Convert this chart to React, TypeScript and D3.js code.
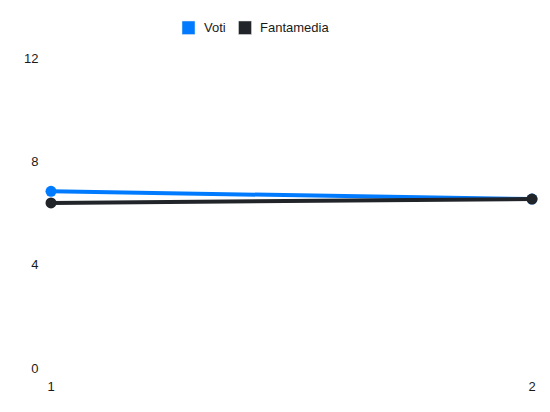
import React from "react";
import * as d3 from "d3";

const categories = ["1", "2"];
const votiValues = [6.85, 6.55];
const fantamediaValues = [6.4, 6.55];
const yTicks = [0, 4, 8, 12];

const series = [
  { name: "Voti", values: votiValues, color: "#007bff" },
  { name: "Fantamedia", values: fantamediaValues, color: "#212529" },
];

export default function App() {
  const width = 550;
  const height = 412;
  const x = d3.scalePoint<string>().domain(categories).range([51, 532]);
  const y = d3.scaleLinear().domain([0, 12]).range([368.3, 58.3]);
  const line = d3
    .line<number>()
    .x((_, i) => x(categories[i]) as number)
    .y((d) => y(d));
  const font = "'Liberation Sans', Arial, Helvetica, sans-serif";
  const legend = [
    { name: "Voti", color: "#007bff", boxX: 182, textX: 204 },
    { name: "Fantamedia", color: "#212529", boxX: 238.5, textX: 260 },
  ];
  return (
    <svg
      width={width}
      height={height}
      style={{ position: "absolute", left: 0, top: 0, background: "#fff" }}
      fontFamily={font}
    >
      {legend.map((l) => (
        <g key={l.name}>
          <rect x={l.boxX} y={21} width={13} height={13.5} fill={l.color} stroke="#e6e6e6" strokeWidth={0.5} />
          <text x={l.textX} y={27.5} dominantBaseline="central" fontSize={13} fill="#1a1a1a">
            {l.name}
          </text>
        </g>
      ))}
      {yTicks.map((t) => (
        <text key={t} x={38.5} y={y(t)} textAnchor="end" dominantBaseline="central" fontSize={13} fill="#1a1a1a">
          {t}
        </text>
      ))}
      {categories.map((c) => (
        <text key={c} x={x(c) as number} y={386.5} textAnchor="middle" dominantBaseline="central" fontSize={13} fill="#1a1a1a">
          {c}
        </text>
      ))}
      {series.map((s) => (
        <g key={s.name}>
          <path d={line(s.values) || ""} fill="none" stroke={s.color} strokeWidth={4} />
          {s.values.map((v, i) => (
            <circle key={i} cx={x(categories[i]) as number} cy={y(v)} r={5.5} fill={s.color} />
          ))}
        </g>
      ))}
    </svg>
  );
}
